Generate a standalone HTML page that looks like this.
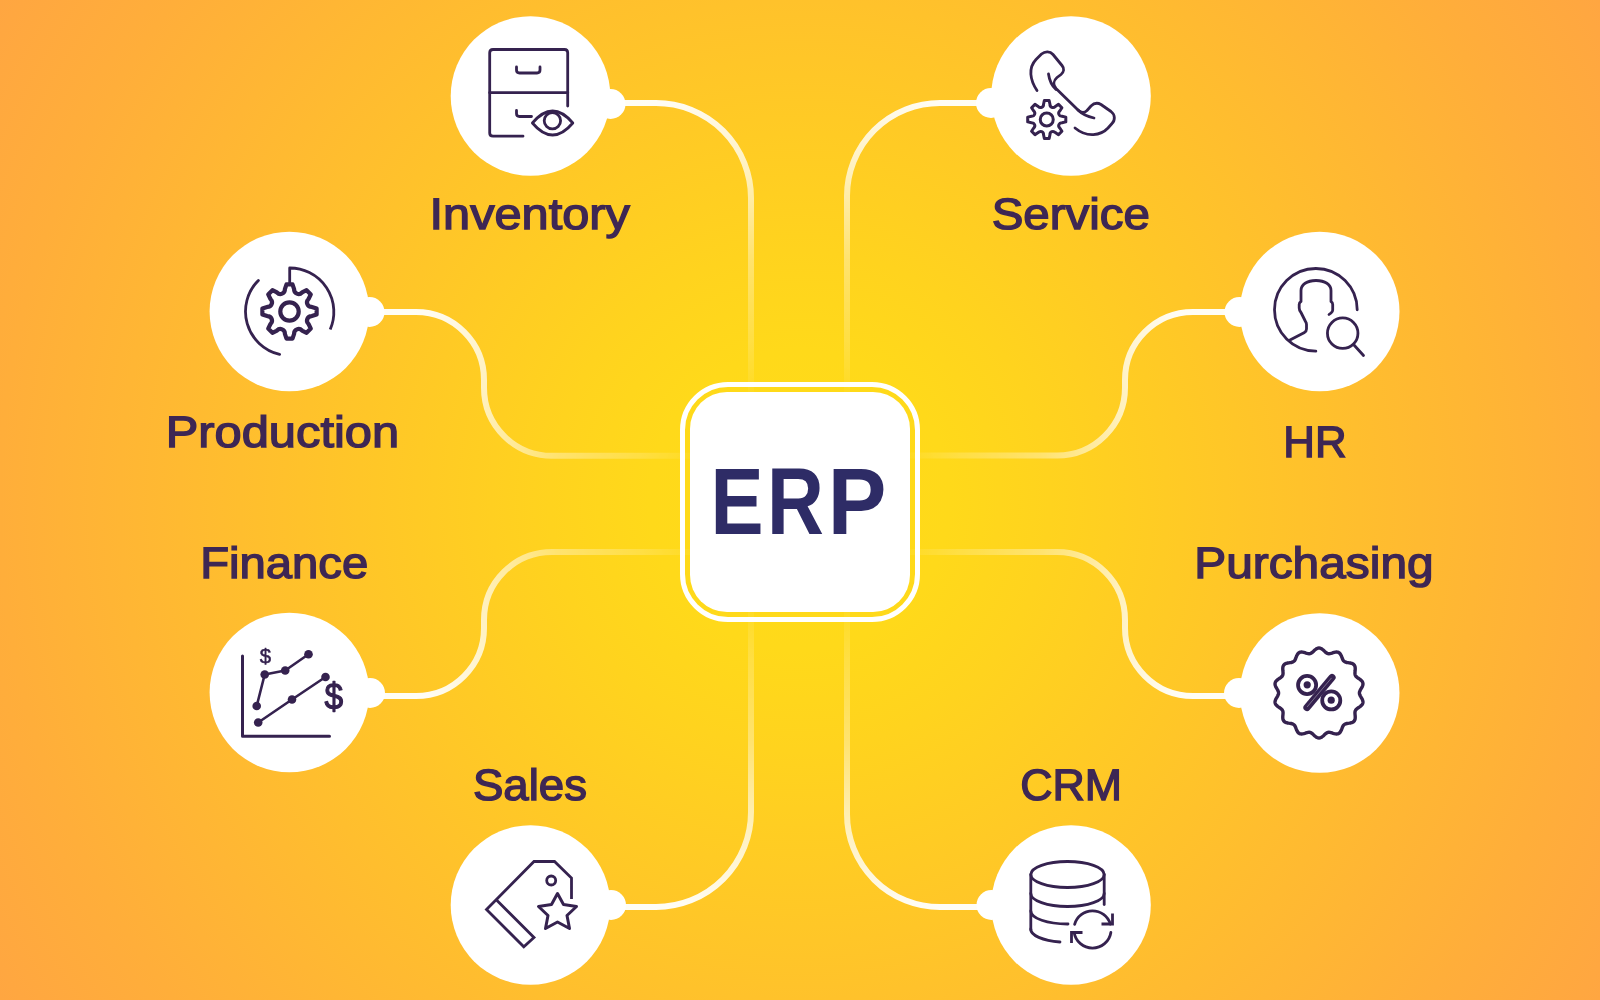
<!DOCTYPE html>
<html>
<head>
<meta charset="utf-8">
<style>
html,body{margin:0;padding:0;width:1600px;height:1000px;overflow:hidden;}
body{background:radial-gradient(circle 943px at 800px 500px,#FFDC17 0px,#FFD91A 150px,#FFD31E 250px,#FFC22B 500px,#FFAE3A 800px,#FFA641 943px);}
svg{position:absolute;left:0;top:0;display:block;will-change:transform;}
text{font-family:"Liberation Sans",sans-serif;font-weight:bold;fill:#3E2754;}
.lb{font-weight:normal;stroke:#3E2754;stroke-width:1.4px;text-rendering:geometricPrecision;}
</style>
</head>
<body>
<svg width="1600" height="1000" viewBox="0 0 1600 1000">
<defs>
<radialGradient id="fade" gradientUnits="userSpaceOnUse" cx="800" cy="500" r="600">
<stop offset="0" stop-color="#fff" stop-opacity="0"/>
<stop offset="0.19" stop-color="#fff" stop-opacity="0.03"/>
<stop offset="0.27" stop-color="#fff" stop-opacity="0.17"/>
<stop offset="0.41" stop-color="#fff" stop-opacity="0.36"/>
<stop offset="0.55" stop-color="#fff" stop-opacity="0.7"/>
<stop offset="0.7" stop-color="#fff" stop-opacity="0.95"/>
<stop offset="1" stop-color="#fff" stop-opacity="1"/>
</radialGradient>
<mask id="m" maskUnits="userSpaceOnUse" x="0" y="0" width="1600" height="1000">
<rect x="0" y="0" width="1600" height="1000" fill="url(#fade)"/>
</mask>
</defs>
<g fill="none" stroke="#FFFFFF" stroke-width="6" mask="url(#m)">
<path d="M610,103 H656 A95,95 0 0 1 751,198 V392"/>
<path d="M991,103 H940 A93,93 0 0 0 847,196 V392"/>
<path d="M370,312 H416 A68,68 0 0 1 484,380 V387.8 A68,68 0 0 0 552,455.8 H690"/>
<path d="M1239,312 H1193 A68,68 0 0 0 1125,380 V387.5 A68,68 0 0 1 1057,455.5 H910"/>
<path d="M370,696 H416 A68,68 0 0 0 484,628 V620 A68,68 0 0 1 552,552 H690"/>
<path d="M1239,696 H1193 A68,68 0 0 1 1125,628 V620 A68,68 0 0 0 1057,552 H910"/>
<path d="M611,907 H656 A95,95 0 0 0 751,812 V612"/>
<path d="M991,907 H940 A93,93 0 0 1 847,814 V612"/>
</g>
<rect x="682.5" y="384.5" width="235" height="235" rx="45.5" fill="none" stroke="#fff" stroke-width="5"/>
<rect x="690" y="392" width="220" height="220" rx="37" fill="#fff"/>
<text x="710.55" y="534.4" font-size="94.5" textLength="53.04" lengthAdjust="spacingAndGlyphs" style="fill:#2E2C66">E</text><text x="767" y="534.4" font-size="94.5" textLength="56.83" lengthAdjust="spacingAndGlyphs" style="fill:#2E2C66">R</text><text x="827.69" y="534.4" font-size="94.5" textLength="58.69" lengthAdjust="spacingAndGlyphs" style="fill:#2E2C66">P</text>
<g fill="#fff">
<circle cx="530.5" cy="96" r="79.8"/><circle cx="610.5" cy="104" r="15"/>
<circle cx="1071" cy="96" r="79.8"/><circle cx="991" cy="103" r="15"/>
<circle cx="289.4" cy="311.5" r="79.8"/><circle cx="369.5" cy="312" r="15"/>
<circle cx="1319.7" cy="311.5" r="79.8"/><circle cx="1239.5" cy="312" r="15"/>
<circle cx="289.4" cy="692.5" r="79.8"/><circle cx="370" cy="693" r="15"/>
<circle cx="1319.7" cy="693" r="79.8"/><circle cx="1239" cy="693" r="15"/>
<circle cx="530.5" cy="905" r="79.8"/><circle cx="611" cy="905" r="15"/>
<circle cx="1071" cy="905" r="79.8"/><circle cx="991.5" cy="905" r="15"/>
</g>
<text class="lb" x="429.53" y="229.4" font-size="43.9" textLength="200.36" lengthAdjust="spacingAndGlyphs">Inventory</text>
<text class="lb" x="991.66" y="229.4" font-size="43.9" textLength="158.2" lengthAdjust="spacingAndGlyphs">Service</text>
<text class="lb" x="165.79" y="447.2" font-size="43.9" textLength="233.33" lengthAdjust="spacingAndGlyphs">Production</text>
<text class="lb" x="1283.32" y="457.4" font-size="43.9" textLength="63.35" lengthAdjust="spacingAndGlyphs">HR</text>
<text class="lb" x="200.15" y="578.2" font-size="43.9" textLength="168.09" lengthAdjust="spacingAndGlyphs">Finance</text>
<text class="lb" x="1194.24" y="578.3" font-size="43.9" textLength="239.38" lengthAdjust="spacingAndGlyphs">Purchasing</text>
<text class="lb" x="472.93" y="800.3" font-size="43.9" textLength="114.11" lengthAdjust="spacingAndGlyphs">Sales</text>
<text class="lb" x="1020.18" y="800.3" font-size="43.9" textLength="101.9" lengthAdjust="spacingAndGlyphs">CRM</text>
<g fill="none" stroke="#35224F" stroke-width="2.8" stroke-linecap="round" stroke-linejoin="round">
<g stroke-width="2.8">
<path d="M523,136.2 H493 Q489.7,136.2 489.7,133 V52.8 Q489.7,49.5 493,49.5 H564.5 Q567.7,49.5 567.7,52.8 V106"/>
<path d="M489.7,92.7 H567.7"/>
<path d="M516.5,67 V70 Q516.5,73 519.5,73 H537 Q540,73 540,70 V67"/>
<path d="M516.5,110.5 V113.5 Q516.5,116.5 519.5,116.5 H531.5"/>
<path d="M532.4,123 Q552.6,99 572.8,123 Q552.6,147 532.4,123 Z"/>
<circle cx="552.4" cy="120.7" r="8.2"/>
</g>
<g stroke-width="2.8" transform="translate(1020,45)">
<path d="M17,45.5 C10,35 8,23 16,14.5 L21.5,9 C25,6 30,6 33,9.5 L42,20.5 C44.5,23.5 44,27 41,29.5 L37,32.5 C33.5,35.5 33,40 36,43.5 L58,65 C61,68 64.5,68 67,65.5 L71,61 C74,58 77.5,57.5 81,59.5 L91,66.5 C95,69.5 95.5,75 92,78.5 L88,83 C81,90.5 67,93 55,83"/>
<path d="M28.5,29 C29.5,36 31,40 36,44.5"/>
<path d="M58,65 C62,69 67,71.5 74,73"/>
</g>
<path stroke-width="3" d="M1043.55,104.23 L1044.35,100.45 L1049.15,100.45 L1049.95,104.23 C1049.79,107.27 1053.25,108.7 1055.28,106.44 L1058.52,104.33 L1061.92,107.73 L1059.81,110.97 C1057.55,113 1058.98,116.46 1062.02,116.3 L1065.8,117.1 L1065.8,121.9 L1062.02,122.7 C1058.98,122.54 1057.55,126 1059.81,128.03 L1061.92,131.27 L1058.52,134.67 L1055.28,132.56 C1053.25,130.3 1049.79,131.73 1049.95,134.77 L1049.15,138.55 L1044.35,138.55 L1043.55,134.77 C1043.71,131.73 1040.25,130.3 1038.22,132.56 L1034.98,134.67 L1031.58,131.27 L1033.69,128.03 C1035.95,126 1034.52,122.54 1031.48,122.7 L1027.7,121.9 L1027.7,117.1 L1031.48,116.3 C1034.52,116.46 1035.95,113 1033.69,110.97 L1031.58,107.73 L1034.98,104.33 L1038.22,106.44 C1040.25,108.7 1043.71,107.27 1043.55,104.23 Z"/><circle stroke-width="3" cx="1046.75" cy="119.5" r="6.5"/>
<path stroke-width="4.2" d="M284.9,289.17 L286.5,284.37 L292.5,284.37 L294.1,289.17 C293.92,293.53 299.08,295.67 302.04,292.46 L306.57,290.19 L310.81,294.43 L308.54,298.96 C305.33,301.92 307.47,307.08 311.83,306.9 L316.63,308.5 L316.63,314.5 L311.83,316.1 C307.47,315.92 305.33,321.08 308.54,324.04 L310.81,328.57 L306.57,332.81 L302.04,330.54 C299.08,327.33 293.92,329.47 294.1,333.83 L292.5,338.63 L286.5,338.63 L284.9,333.83 C285.08,329.47 279.92,327.33 276.96,330.54 L272.43,332.81 L268.19,328.57 L270.46,324.04 C273.67,321.08 271.53,315.92 267.17,316.1 L262.37,314.5 L262.37,308.5 L267.17,306.9 C271.53,307.08 273.67,301.92 270.46,298.96 L268.19,294.43 L272.43,290.19 L276.96,292.46 C279.92,295.67 285.08,293.53 284.9,289.17 Z"/><circle stroke-width="4.2" cx="289.5" cy="311.5" r="9.2"/>
<path stroke-width="2.8" d="M258.39,280.39 A44,44 0 0 0 279.6,354.37"/>
<path stroke-width="2.8" stroke-linecap="butt" d="M289.7,284.5 V268 A44,44 0 0 1 330.2,329.5"/>
<g stroke-width="2.8">
<path d="M1357.2,309.85 A41.35,41.35 0 1 0 1315.85,351.2"/>
<path d="M1290,340 L1304.5,332.5 Q1306.5,331 1306.5,329 V324.5 Q1306.5,323 1305.5,321.5 L1301,312.5 Q1299.2,310.5 1299.2,308 V304.5 Q1299.2,302.5 1301,301.5 V290.5 C1301,284.5 1307,280.5 1316,280.5 C1325,280.5 1331,284.5 1331,290.5 V301.5 Q1332.7,302.5 1332.7,304.5 V310 Q1332.7,312 1331,313 L1329,314.5"/>
<circle cx="1342.7" cy="333.2" r="15.25"/>
<path d="M1354,345 L1363.5,355.5"/>
</g>
<g stroke-width="2.6">
<path stroke-width="3" d="M242.5,656 V736.2 H329.5"/>
<path d="M256.7,706 L264.7,674.5 L285.2,670.5 L308.5,654.3"/>
<path d="M258.2,722.5 L292,699.5 L325.5,677"/>
</g>
<g fill="#35224F" stroke="none">
<circle cx="256.7" cy="706" r="4.3"/><circle cx="264.7" cy="674.5" r="4.3"/><circle cx="285.2" cy="670.5" r="4.3"/><circle cx="308.5" cy="654.3" r="4.3"/>
<circle cx="258.2" cy="722.5" r="4.3"/><circle cx="292" cy="699.5" r="4.3"/><circle cx="325.5" cy="677" r="4.3"/>
</g>
<text x="259.8" y="663.1" font-size="20.4" stroke="#35224F" stroke-width="0.5" style="fill:#35224F;font-weight:normal">$</text>
<g transform="translate(333.75,0) scale(0.9,1) translate(-333.75,0)"><text x="323.6" y="709.4" font-size="37.2" stroke="#35224F" stroke-width="1.2" style="fill:#35224F;font-weight:normal;text-rendering:geometricPrecision">$</text></g>
<path stroke-width="3.4" d="M1319,648 L1320.01,648.12 L1321,648.48 L1321.96,649.05 L1322.89,649.76 L1323.78,650.57 L1324.64,651.39 L1325.47,652.16 L1326.29,652.82 L1327.13,653.31 L1327.99,653.61 L1328.9,653.72 L1329.86,653.63 L1330.89,653.4 L1331.98,653.07 L1333.1,652.7 L1334.25,652.36 L1335.4,652.11 L1336.51,652.03 L1337.56,652.13 L1338.52,652.46 L1339.38,653.01 L1340.12,653.76 L1340.74,654.69 L1341.27,655.73 L1341.72,656.84 L1342.13,657.96 L1342.55,659.01 L1343,659.96 L1343.54,660.77 L1344.19,661.41 L1344.96,661.9 L1345.87,662.25 L1346.9,662.48 L1348.02,662.65 L1349.19,662.81 L1350.38,663 L1351.52,663.28 L1352.56,663.68 L1353.46,664.23 L1354.18,664.94 L1354.71,665.81 L1355.05,666.81 L1355.21,667.91 L1355.23,669.09 L1355.16,670.28 L1355.05,671.46 L1354.96,672.59 L1354.96,673.65 L1355.1,674.61 L1355.4,675.47 L1355.89,676.25 L1356.55,676.95 L1357.38,677.61 L1358.31,678.25 L1359.3,678.9 L1360.29,679.59 L1361.19,680.33 L1361.95,681.15 L1362.53,682.03 L1362.87,682.99 L1362.98,684 L1362.84,685.04 L1362.51,686.11 L1362.02,687.17 L1361.43,688.22 L1360.82,689.24 L1360.25,690.22 L1359.8,691.17 L1359.5,692.09 L1359.4,693 L1359.5,693.91 L1359.8,694.83 L1360.25,695.78 L1360.82,696.76 L1361.43,697.78 L1362.02,698.83 L1362.51,699.89 L1362.84,700.96 L1362.98,702 L1362.87,703.01 L1362.53,703.97 L1361.95,704.85 L1361.19,705.67 L1360.29,706.41 L1359.3,707.1 L1358.31,707.75 L1357.38,708.39 L1356.55,709.05 L1355.89,709.75 L1355.4,710.53 L1355.1,711.39 L1354.96,712.35 L1354.96,713.41 L1355.05,714.54 L1355.16,715.72 L1355.23,716.91 L1355.21,718.09 L1355.05,719.19 L1354.71,720.19 L1354.18,721.06 L1353.46,721.77 L1352.56,722.32 L1351.52,722.72 L1350.38,723 L1349.19,723.19 L1348.02,723.35 L1346.9,723.52 L1345.87,723.75 L1344.96,724.1 L1344.19,724.59 L1343.54,725.23 L1343,726.04 L1342.55,726.99 L1342.13,728.04 L1341.72,729.16 L1341.27,730.27 L1340.74,731.31 L1340.12,732.24 L1339.38,732.99 L1338.52,733.54 L1337.56,733.87 L1336.51,733.97 L1335.4,733.89 L1334.25,733.64 L1333.1,733.3 L1331.98,732.93 L1330.89,732.6 L1329.86,732.37 L1328.9,732.28 L1327.99,732.39 L1327.13,732.69 L1326.29,733.18 L1325.47,733.84 L1324.64,734.61 L1323.78,735.43 L1322.89,736.24 L1321.96,736.95 L1321,737.52 L1320.01,737.88 L1319,738 L1317.99,737.88 L1317,737.52 L1316.04,736.95 L1315.11,736.24 L1314.22,735.43 L1313.36,734.61 L1312.53,733.84 L1311.71,733.18 L1310.87,732.69 L1310.01,732.39 L1309.1,732.28 L1308.14,732.37 L1307.11,732.6 L1306.02,732.93 L1304.9,733.3 L1303.75,733.64 L1302.6,733.89 L1301.49,733.97 L1300.44,733.87 L1299.48,733.54 L1298.62,732.99 L1297.88,732.24 L1297.26,731.31 L1296.73,730.27 L1296.28,729.16 L1295.87,728.04 L1295.45,726.99 L1295,726.04 L1294.46,725.23 L1293.81,724.59 L1293.04,724.1 L1292.13,723.75 L1291.1,723.52 L1289.98,723.35 L1288.81,723.19 L1287.62,723 L1286.48,722.72 L1285.44,722.32 L1284.54,721.77 L1283.82,721.06 L1283.29,720.19 L1282.95,719.19 L1282.79,718.09 L1282.77,716.91 L1282.84,715.72 L1282.95,714.54 L1283.04,713.41 L1283.04,712.35 L1282.9,711.39 L1282.6,710.53 L1282.11,709.75 L1281.45,709.05 L1280.62,708.39 L1279.69,707.75 L1278.7,707.1 L1277.71,706.41 L1276.81,705.67 L1276.05,704.85 L1275.47,703.97 L1275.13,703.01 L1275.02,702 L1275.16,700.96 L1275.49,699.89 L1275.98,698.83 L1276.57,697.78 L1277.18,696.76 L1277.75,695.78 L1278.2,694.83 L1278.5,693.91 L1278.6,693 L1278.5,692.09 L1278.2,691.17 L1277.75,690.22 L1277.18,689.24 L1276.57,688.22 L1275.98,687.17 L1275.49,686.11 L1275.16,685.04 L1275.02,684 L1275.13,682.99 L1275.47,682.03 L1276.05,681.15 L1276.81,680.33 L1277.71,679.59 L1278.7,678.9 L1279.69,678.25 L1280.62,677.61 L1281.45,676.95 L1282.11,676.25 L1282.6,675.47 L1282.9,674.61 L1283.04,673.65 L1283.04,672.59 L1282.95,671.46 L1282.84,670.28 L1282.77,669.09 L1282.79,667.91 L1282.95,666.81 L1283.29,665.81 L1283.82,664.94 L1284.54,664.23 L1285.44,663.68 L1286.48,663.28 L1287.62,663 L1288.81,662.81 L1289.98,662.65 L1291.1,662.48 L1292.13,662.25 L1293.04,661.9 L1293.81,661.41 L1294.46,660.77 L1295,659.96 L1295.45,659.01 L1295.87,657.96 L1296.28,656.84 L1296.73,655.73 L1297.26,654.69 L1297.88,653.76 L1298.62,653.01 L1299.48,652.46 L1300.44,652.13 L1301.49,652.03 L1302.6,652.11 L1303.75,652.36 L1304.9,652.7 L1306.02,653.07 L1307.11,653.4 L1308.14,653.63 L1309.1,653.72 L1310.01,653.61 L1310.87,653.31 L1311.71,652.82 L1312.53,652.16 L1313.36,651.39 L1314.22,650.57 L1315.11,649.76 L1316.04,649.05 L1317,648.48 L1317.99,648.12 Z"/>
<g stroke-width="3.8">
<circle cx="1307.1" cy="685" r="9.05"/><circle cx="1331.25" cy="700.4" r="9.05"/>
<path stroke-width="7.2" d="M1332,677.5 L1307,707.5"/>
</g>
<path stroke="#fff" stroke-width="0.5" stroke-opacity="0.7" d="M1331.3,678.2 L1307.4,706.6"/>
<g fill="#35224F" stroke="none"><circle cx="1307.2" cy="684.8" r="3.6"/><circle cx="1331.2" cy="700.2" r="3.6"/></g>
<g stroke-width="2.8" stroke-linejoin="miter" stroke-linecap="butt">
<path d="M571.5,899 V878 L554.5,861.5 H534 L486.5,909.5 L523.8,946.8 L534,937.5 L497,900.5"/>
<circle cx="551.2" cy="880.5" r="4.5"/>
<path stroke-linejoin="round" stroke-width="3" d="M557.5,893.5 L563.5,904.5 L576.5,906.5 L567,915.5 L569.5,928.5 L557.5,922 L545.5,928.5 L548,915.5 L538.5,906.5 L551.5,904.5 Z"/>
</g>
<g stroke-width="2.8">
<ellipse cx="1067.5" cy="874.5" rx="36.7" ry="13"/>
<path d="M1030.8,874.5 V930"/>
<path d="M1104.2,874.5 V904.5"/>
<path d="M1030.8,893.5 A36.7,13 0 0 0 1104.2,893.5"/>
<path d="M1030.8,911 A36.7,13 0 0 0 1068,924"/>
<path d="M1030.8,929 A36.7,13 0 0 0 1060,942"/>
<path d="M1074.62,924.37 A18.6,18.6 0 0 1 1110.29,924.06"/><path d="M1110.87,932.41 A18.6,18.6 0 0 1 1074.13,932.41"/>
<path stroke-linecap="butt" stroke-linejoin="miter" d="M1112.5,913.5 V924 H1101.5"/>
<path stroke-linecap="butt" stroke-linejoin="miter" d="M1071.5,943 V932.5 H1082.5"/>
</g>
</g>
</svg>
</body>
</html>
